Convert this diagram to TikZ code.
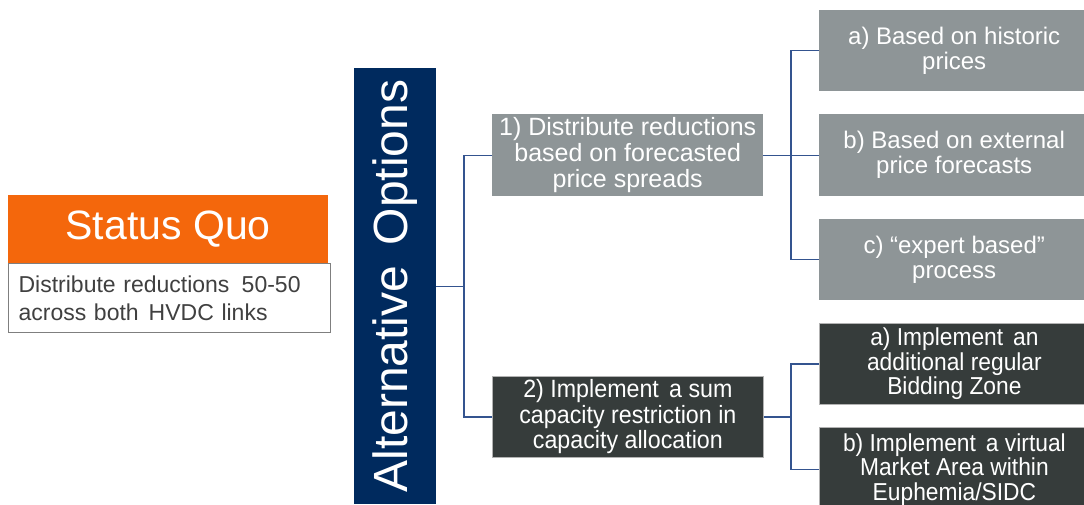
\documentclass[tikz,border=0pt]{standalone}
\usepackage{fontspec}
\setmainfont{Liberation Sans}
\newfontfamily\narrowfont[FakeStretch=0.93]{Liberation Sans}
\definecolor{sqorange}{HTML}{F4670C}
\definecolor{navy}{HTML}{002A5E}
\definecolor{gbox}{HTML}{8E9597}
\definecolor{dbox}{HTML}{363C3B}
\definecolor{conncol}{HTML}{34548F}
\definecolor{txtgray}{HTML}{404040}
\definecolor{bordergray}{HTML}{7F7F7F}
\begin{document}
\begin{tikzpicture}[x=1pt,y=-1pt,
  base/.style={anchor=north west, inner sep=0pt, align=center, text=white},
  graybox/.style={base, fill=gbox, font=\fontsize{24}{25}\selectfont},
  midbox/.style={base, fill=gbox, font=\fontsize{25}{26}\selectfont},
  darkbox/.style={base, fill=dbox, draw=gray!60, line width=0.8pt, font=\narrowfont\fontsize{24.5}{24.5}\selectfont},
  conn/.style={draw=conncol, line width=1.4pt},
  connthick/.style={draw=conncol, line width=2.4pt}
]
\useasboundingbox (0,0) rectangle (1084,504);
\clip (0,0) rectangle (1084,504);

% Status quo
\node[base, fill=sqorange, minimum width=320pt, minimum height=68pt,
      font=\fontsize{41}{42}\selectfont] (sq) at (8,195) {Status Quo};
\node[anchor=north west, draw=bordergray, line width=1.2pt, fill=white,
      text width=302pt, inner xsep=10pt, inner ysep=0pt, minimum height=69pt,
      align=left, text=txtgray, font=\fontsize{23}{28}\selectfont] (sqd) at (8,263)
      {Distribute reductions\hspace{0.2em} 50-50\\across both\hspace{0.1em} HVDC links};

% Alternative options bar
\node[anchor=north west, fill=navy, minimum width=82pt, minimum height=436pt, inner sep=0pt] (bar) at (354,68) {};
\node[rotate=90, text=white, font=\fontsize{48}{48}\selectfont, inner sep=0pt] (bartxt) at (bar.center) {Alternative\hspace{0.15em} Options};

% Middle options
\node[midbox, minimum width=271pt, minimum height=82pt] (o1) at (492,114)
  {1) Distribute reductions\\based on forecasted\\price spreads};
\node[darkbox, minimum width=271pt, minimum height=81pt, font=\narrowfont\fontsize{25}{25.5}\selectfont] (o2) at (492,376)
  {2) Implement\hspace{0.15em} a sum\\capacity restriction in\\capacity allocation};

% Right gray boxes
\node[graybox, minimum width=270pt, minimum height=81pt] (a1) at (819,10) {a) Based on historic\\prices};
\node[graybox, minimum width=270pt, minimum height=82pt] (b1) at (819,114) {b) Based on external\\price forecasts};
\node[graybox, minimum width=270pt, minimum height=81pt] (c1) at (819,219) {c) ``expert based''\\process};

% Right dark boxes
\node[darkbox, minimum width=270pt, minimum height=81pt] (d1) at (819,323)
  {a) Implement\hspace{0.15em} an\\additional regular\\Bidding Zone};
\node[darkbox, minimum width=270pt, minimum height=84pt] (d2) at (819,427)
  {b) Implement\hspace{0.15em} a virtual\\Market Area within\\Euphemia/SIDC};

% Connectors
\coordinate (spine) at (464,0);
\coordinate (spine2) at (791,0);
\draw[conn] (bar.east) -- (bar.east -| spine);
\draw[conn] (o1.west) -- (o1.west -| spine) -- (o2.west -| spine) -- (o2.west);
\draw[conn] (o1.east) -- (o1.east -| spine2);
\draw[conn] (a1.west) -- (a1.west -| spine2) -- (c1.west -| spine2) -- (c1.west);
\draw[conn] (b1.west) -- (b1.west -| spine2);
\draw[connthick] (o2.east) -- (o2.east -| spine2);
\draw[conn] (d1.west) -- (d1.west -| spine2) -- (d2.west -| spine2) -- (d2.west);
\end{tikzpicture}
\end{document}
